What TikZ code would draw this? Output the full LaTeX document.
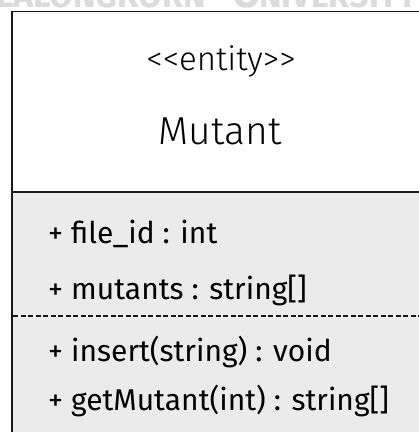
\documentclass[tikz,border=0pt]{standalone}
\usepackage{fontspec}
\setmainfont{Fira Sans}[Ligatures={NoCommon,NoContextual}]
\IfFontExistsTF{Fira Sans Light}
  {\newfontfamily\headfont{Fira Sans Light}[Ligatures={NoCommon,NoContextual}]}
  {\newfontfamily\headfont{Fira Sans}[Ligatures={NoCommon,NoContextual}]}
\IfFontExistsTF{Fira Sans Book}
  {\newfontfamily\memberfont{Fira Sans Book}}
  {\newfontfamily\memberfont{Fira Sans}}
\newfontfamily\markfont{Fira Sans}
\newcommand{\lt}{\mbox{<}}
\newcommand{\gt}{\mbox{>}}
\begin{document}
\begin{tikzpicture}[x=1pt,y=-1pt,
  frame/.style={draw=black!90,line width=1.8pt},
  stereo/.style={font=\headfont\fontsize{33}{36}\selectfont,inner sep=0pt},
  classname/.style={font=\headfont\fontsize{39}{42}\selectfont,inner sep=0pt},
  member/.style={font=\memberfont\fontsize{30}{33}\selectfont,inner sep=0pt,anchor=base west},
  watermark/.style={text=black!14,inner sep=0pt}]
\useasboundingbox (0,0) rectangle (419,432);
\fill[white] (0,0) rectangle (419,432);
% faint watermark lettering along the top edge
\begin{scope}
  \clip (0,0) rectangle (419,432);
  \node[watermark,anchor=base east,font=\markfont\bfseries\fontsize{34}{36}\selectfont] (wm1) at (206,7) {HULALONGKORN};
  \node[watermark,anchor=base west,font=\markfont\bfseries\fontsize{44}{46}\selectfont] (wm2) at (232,7) {U};
  \node[watermark,anchor=base west,font=\markfont\bfseries\fontsize{34}{36}\selectfont] (wm3) at (259,7) {NIVERSITY};
\end{scope}
% class box: header and member compartment
\fill[black!8] (12,192) rectangle (432,440);
\draw[frame] (432,11.5) -- (12,11.5) -- (12,440);
\draw[frame] (12,192) -- (432,192);
\draw[black!90,line width=1.4pt,dash pattern=on 5pt off 2.5pt] (13,316) -- (432,316);
% header texts
\node[stereo] (stereo) at (221,61) {\lt\lt entity\gt\gt};
\node[classname] (name) at (220,131) {Mutant};
% attributes and operations
\node[member] (a1) at (48,243) {+ file\_id : int};
\node[member] (a2) at (48,299) {+ mutants : string[]};
\node[member] (o1) at (48,361) {+ insert(string) : void};
\node[member] (o2) at (48,410) {+ getMutant(int) : string[]};
\end{tikzpicture}
\end{document}
